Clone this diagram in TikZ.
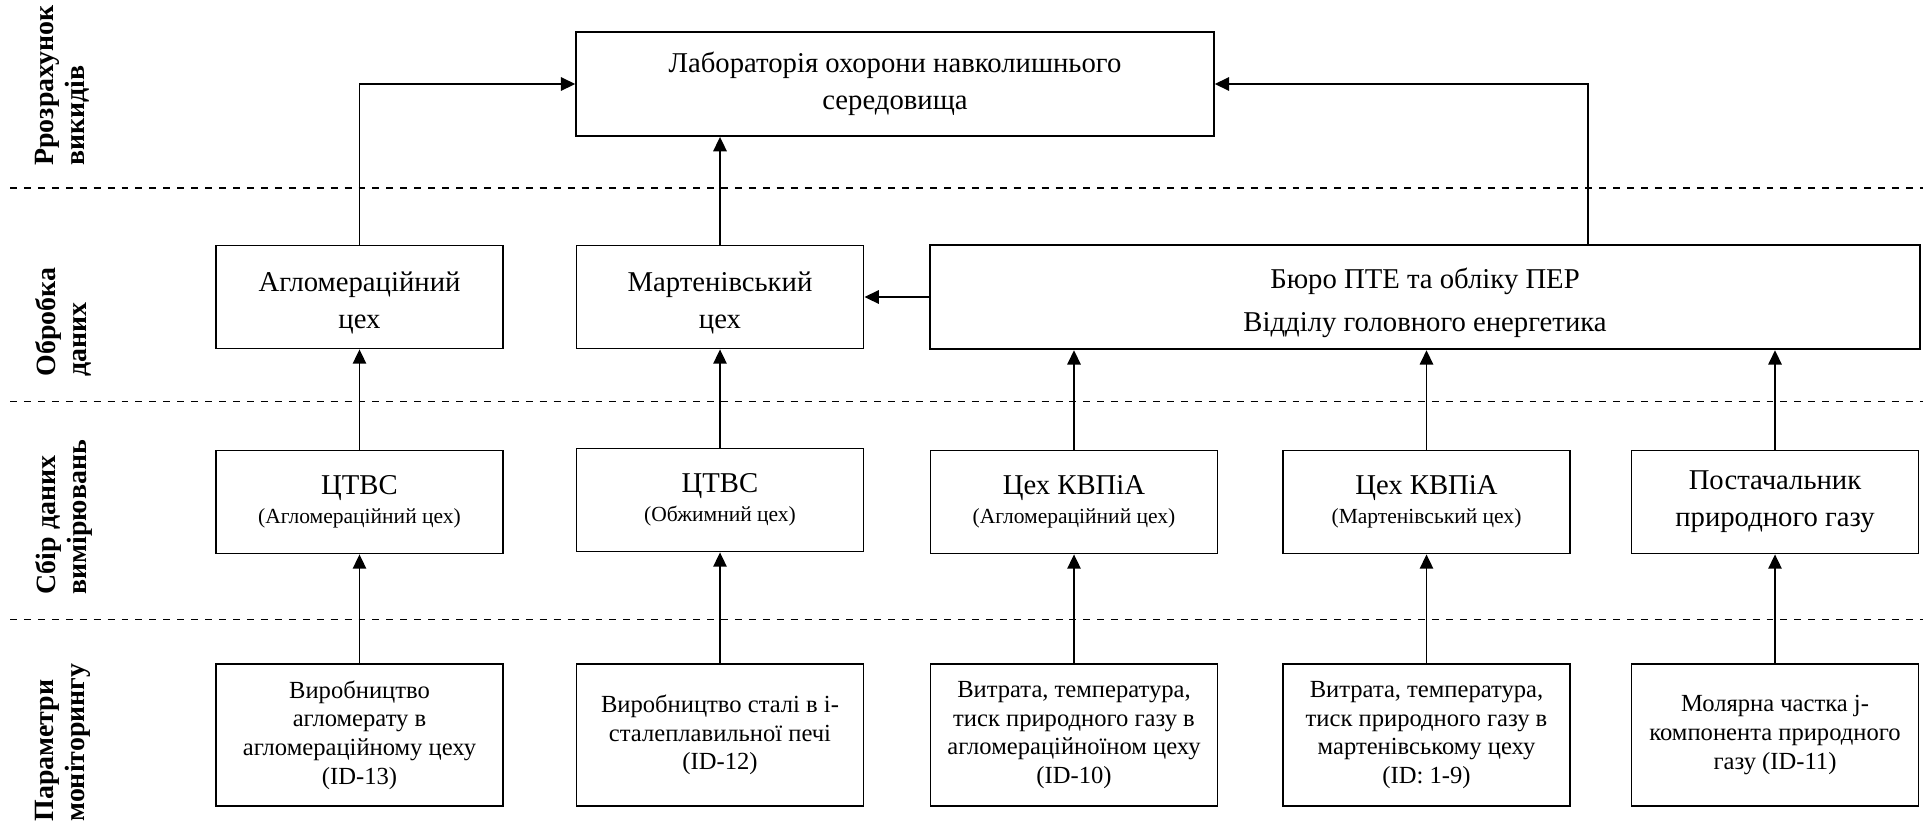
\documentclass[tikz,border=0pt]{standalone}
\usepackage{fontspec}
\setmainfont{Liberation Serif}
\usetikzlibrary{arrows.meta}

\begin{document}
\begin{tikzpicture}[x=0.4878pt, y=-0.4878pt,
  box/.style={draw, line width=0.9pt, align=center, inner sep=0pt,
    minimum width=140pt, minimum height=50.2pt, font=\fontsize{14}{18}\selectfont},
  parambox/.style={box, minimum height=69.5pt, font=\fontsize{12}{14}\selectfont},
  zone/.style={rotate=90, anchor=north west, align=left, inner sep=0pt,
    font=\fontsize{13.6}{15}\selectfont\bfseries},
  link/.style={line width=0.9pt, -{Triangle[length=7pt, width=6.5pt]}},
  sep/.style={dash pattern=on 3.4pt off 3.4pt, line width=0.5pt}]

\useasboundingbox (0,0) rectangle (1923,825);

% separators
\draw[sep] (10,188) -- (1923,188);
\draw[sep] (10,401) -- (1923,401);
\draw[sep] (10,619) -- (1923,619);

% zones
\node[zone] (z1) at (35,166) {Ррозрахунок\\викидів};
\node[zone] (z2) at (35,377) {Обробка\\даних};
\node[zone] (z3) at (35,595) {Сбір даних\\вимірювань};
\node[zone] (z4) at (35,822) {Параметри\\моніторингу};

% top
\node[box, minimum width=311pt, minimum height=50.7pt] (lab) at (895,84)
  {Лабораторія охорони навколишнього\\середовища};

% data processing
\node[box] (aglo) at (359.5,297) {\rule{0pt}{15.5pt}Агломераційний\\цех};
\node[box] (mart) at (720,297) {\rule{0pt}{15.5pt}Мартенівський\\цех};
\node[box, minimum width=483pt, minimum height=51pt] (buro) at (1425,297)
  {\rule{0pt}{15.5pt}Бюро ПТЕ та обліку ПЕР\\[3pt]Відділу головного енергетика};

% measurements
\node[box] (ctvs1) at (359.5,502) {ЦТВС\\[-4pt]{\fontsize{10.5}{12}\selectfont(Агломераційний цех)}};
\node[box] (ctvs2) at (720,500) {ЦТВС\\[-4pt]{\fontsize{10.5}{12}\selectfont(Обжимний цех)}};
\node[box] (kvp1) at (1074,502) {Цех КВПіА\\[-4pt]{\fontsize{10.5}{12}\selectfont(Агломераційний цех)}};
\node[box] (kvp2) at (1426.5,502) {Цех КВПіА\\[-4pt]{\fontsize{10.5}{12}\selectfont(Мартенівський цех)}};
\node[box] (gas) at (1775,502) {Постачальник\\природного газу};

% parameters
\node[parambox] (p13) at (359.5,735) {Виробництво\\агломерату в\\агломераційному цеху\\(ID-13)};
\node[parambox] (p12) at (720,735) {Виробництво сталі в і-\\сталеплавильної печі\\(ID-12)};
\node[parambox] (p10) at (1074,735) {Витрата, температура,\\тиск природного газу в\\агломераційноїном цеху\\(ID-10)};
\node[parambox] (p19) at (1426.5,735) {Витрата, температура,\\тиск природного газу в\\мартенівському цеху\\(ID: 1-9)};
\node[parambox] (p11) at (1775,735) {Молярна частка j-\\компонента природного\\газу (ID-11)};

\coordinate (bturn) at (1588,84);

% links
\draw[link] (p13) -- (ctvs1);
\draw[link] (p12) -- (ctvs2);
\draw[link] (p10) -- (kvp1);
\draw[link] (p19) -- (kvp2);
\draw[link] (p11) -- (gas);

\draw[link] (ctvs1) -- (aglo);
\draw[link] (ctvs2) -- (mart);
\draw[link] (kvp1.north) -- (kvp1.north |- buro.south);
\draw[link] (kvp2.north) -- (kvp2.north |- buro.south);
\draw[link] (gas.north) -- (gas.north |- buro.south);

\draw[link] (buro.west) -- (mart.east);
\draw[link] (aglo.north) |- (lab.west);
\draw[link] (mart.north) -- (mart.north |- lab.south);
\draw[link] (buro.north -| bturn) |- (lab.east);

\end{tikzpicture}
\end{document}
